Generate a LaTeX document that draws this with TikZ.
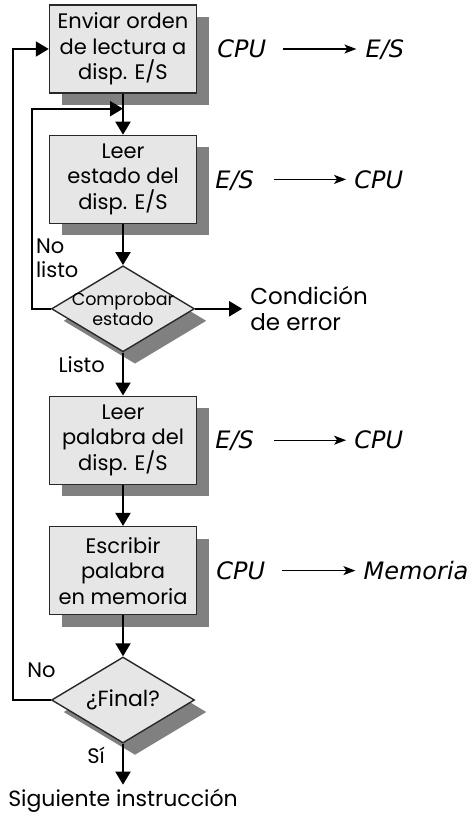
\documentclass[tikz,border=0pt]{standalone}
\usepackage{fontspec}
\setmainfont{Poppins}
\newfontfamily\unitfont{DejaVu Sans}
\usetikzlibrary{arrows.meta,positioning,shapes.geometric,shadows,calc}
\definecolor{boxfill}{RGB}{230,230,230}
\definecolor{boxline}{RGB}{40,40,40}
\definecolor{shadowgray}{RGB}{128,128,128}

\begin{document}
\begin{tikzpicture}[
    x=1pt, y=1pt,
    node distance=41pt,
    box/.style={
        rectangle,
        draw=boxline,
        fill=boxfill,
        line width=1.4pt,
        minimum width=147pt,
        minimum height=88pt,
        inner sep=0pt,
        align=center,
        font=\fontsize{21}{25.5}\selectfont,
        drop shadow={shadow xshift=12pt, shadow yshift=-12pt, fill=shadowgray, opacity=1}
    },
    decision/.style={
        diamond,
        draw=boxline,
        fill=boxfill,
        line width=1.4pt,
        minimum width=143pt,
        minimum height=86pt,
        aspect=1.66,
        inner sep=-7pt,
        align=center,
        drop shadow={shadow xshift=12pt, shadow yshift=-12pt, fill=shadowgray, opacity=1}
    },
    flow/.style={
        -{Triangle[length=13pt,width=15pt]},
        line width=2pt
    },
    xfer/.style={
        -{Stealth[length=12pt,width=9pt,inset=3pt]},
        line width=1.3pt
    },
    unit/.style={
        font=\unitfont\itshape\fontsize{24}{24}\selectfont,
        inner sep=0pt,
        text height=17.5pt,
        text depth=0pt
    },
    tag/.style={
        font=\fontsize{21}{24}\selectfont,
        inner sep=0pt,
        align=left
    }
]
\useasboundingbox (0,0) rectangle (475,-816);

% Flow steps
\node[box] (enviar) at (123,-49) {Enviar orden\\de lectura a\\disp. E/S};
\node[box, below=of enviar] (estado) {Leer\\estado del\\disp. E/S};
\node[decision, below=of estado, font=\fontsize{17.5}{20}\selectfont] (comprobar) {Comprobar\\estado};
\node[box, below=43pt of comprobar] (palabra) {Leer\\palabra del\\disp. E/S};
\node[box, below=of palabra] (escribir) {Escribir\\palabra\\en memoria};
\node[decision, below=of escribir, font=\fontsize{22}{24}\selectfont] (final) {¿Final?};
\node[tag, below=45pt of final, font=\fontsize{22}{24}\selectfont] (siguiente) {Siguiente instrucción};
\node[tag, right=55pt of comprobar, font=\fontsize{23}{26}\selectfont] (error) {Condición\\de error};
\coordinate (retorno) at ([yshift=-15pt]enviar.south);

% Arrows
\draw[flow] (enviar) -- (estado);
\draw[flow] (estado) -- (comprobar);
\draw[flow] (comprobar) -- (palabra);
\draw[flow] (palabra) -- (escribir);
\draw[flow] (escribir) -- (final);
\draw[flow, shorten >=4pt] (final) -- (siguiente);
\draw[flow, shorten >=8pt] (comprobar) -- (error);

% Loops back
\draw[flow] (comprobar.west) -- ++(-19,0) |- (retorno);
\draw[flow] (final.west) -- ++(-38,0) |- (enviar.west);

% Branch labels
\node[tag, anchor=south west] (nolisto) at ([shift={(-15pt,31pt)}]comprobar.west) {No\\listo};
\node[tag, anchor=north east] (listo) at ([shift={(-18pt,-4pt)}]comprobar.south) {Listo};
\node[tag, anchor=south east] (no) at ([shift={(5pt,22pt)}]final.west) {No};
\node[tag, anchor=north east] (si) at ([shift={(-18pt,-3pt)}]final.south) {Sí};

% Transfers
\node[unit, right=20pt of enviar] (cpu1) {CPU};
\node[unit, right=99pt of cpu1] (es1) {E/S};
\draw[xfer, shorten <=17pt, shorten >=9pt] (cpu1) -- (es1);

\node[unit, right=18pt of estado] (es2) {E/S};
\node[unit, right=100pt of es2] (cpu2) {CPU};
\draw[xfer, shorten <=20pt, shorten >=8pt] (es2) -- (cpu2);

\node[unit, right=18pt of palabra] (es3) {E/S};
\node[unit, right=100pt of es3] (cpu3) {CPU};
\draw[xfer, shorten <=20pt, shorten >=8pt] (es3) -- (cpu3);

\node[unit, right=19pt of escribir] (cpu4) {CPU};
\node[unit, right=98pt of cpu4] (mem4) {Memoria};
\draw[xfer, shorten <=17pt, shorten >=8pt] (cpu4) -- (mem4);

\end{tikzpicture}
\end{document}
